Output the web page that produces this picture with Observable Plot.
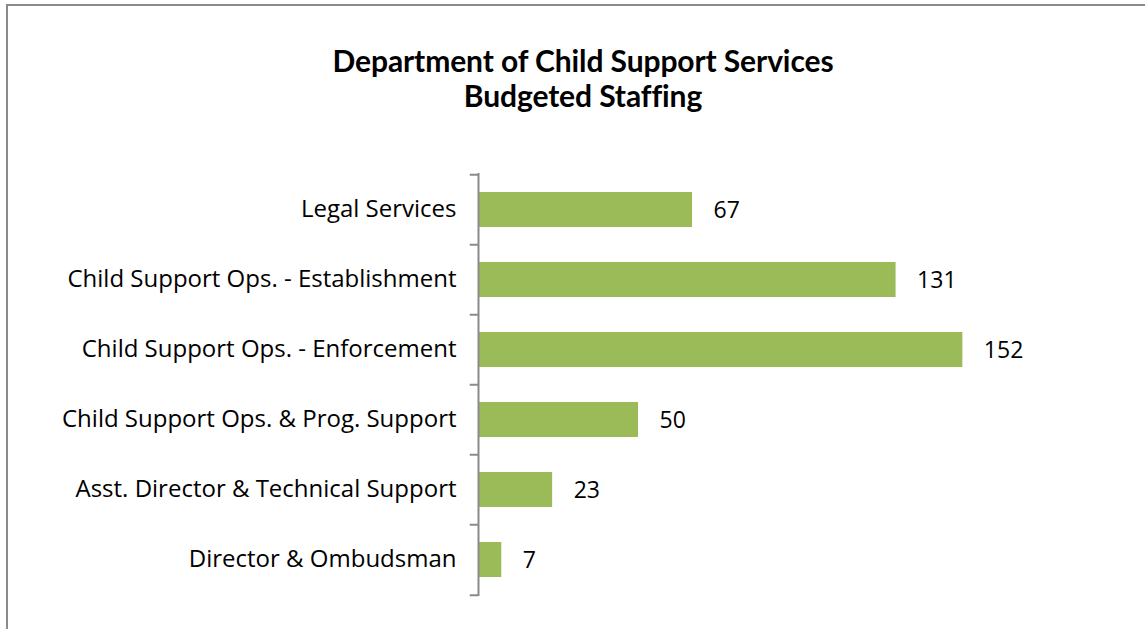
<!DOCTYPE html>
<html>
<head>
<meta charset="utf-8">
<script src="https://cdn.jsdelivr.net/npm/d3@7"></script>
<script src="https://cdn.jsdelivr.net/npm/@observablehq/plot@0.6"></script>
<style>
  html, body { margin: 0; padding: 0; background: #fff; width: 1145px; height: 629px; overflow: hidden; }
  #frame { position: absolute; left: 6px; top: 4px; width: 1200px; height: 700px; border: 2px solid #8a8a8a; box-sizing: border-box; }
  #title { position: absolute; left: 0; width: 1166px; top: 43px; text-align: center; font-family: Lato, sans-serif; font-weight: 700; font-size: 30px; line-height: 35px; color: #000; letter-spacing: -0.1px; }
  #chart { position: absolute; left: 0; top: 0; }
</style>
</head>
<body>
<div id="frame"></div>
<div id="title">Department of Child Support Services<br>Budgeted Staffing</div>
<div id="chart"></div>
<script>
const categories = [
  "Legal Services",
  "Child Support Ops. - Establishment",
  "Child Support Ops. - Enforcement",
  "Child Support Ops. & Prog. Support",
  "Asst. Director & Technical Support",
  "Director & Ombudsman"
];
const staff = [67, 131, 152, 50, 23, 7];

const data = categories.map((c, i) => ({category: c, value: staff[i]}));
const step = (596 - 173) / categories.length;

const chart = Plot.plot({
  width: 1145,
  height: 629,
  marginTop: 173,
  marginBottom: 33,
  marginLeft: 479,
  marginRight: 30,
  style: {fontFamily: "'Open Sans', sans-serif", background: "transparent"},
  x: {domain: [0, 200], axis: null},
  y: {domain: categories, paddingInner: 0.5, paddingOuter: 0.25, label: null},
  marks: [
    Plot.barX(data, {y: "category", x: "value", fill: "#9BBB59"}),
    Plot.text(data, {y: "category", x: "value", text: d => String(d.value), textAnchor: "start", dx: 21, dy: 1, fontSize: 23, fill: "#000"}),
    Plot.ruleX([0], {stroke: "#8a8a8a", strokeWidth: 2, dx: -1}),
    Plot.ruleY(categories, {y: d => d, x1: -2.6, x2: 0, stroke: "#8a8a8a", strokeWidth: 2, dy: -step / 2, dx: -1}),
    Plot.ruleY([categories[categories.length - 1]], {y: d => d, x1: -2.6, x2: 0, stroke: "#8a8a8a", strokeWidth: 2, dy: step / 2, dx: -1}),
    Plot.axisY({tickSize: 0, tickPadding: 23, fontSize: 24, label: null, fill: "#000", dy: -1})
  ]
});
document.getElementById("chart").appendChild(chart);
</script>
</body>
</html>
